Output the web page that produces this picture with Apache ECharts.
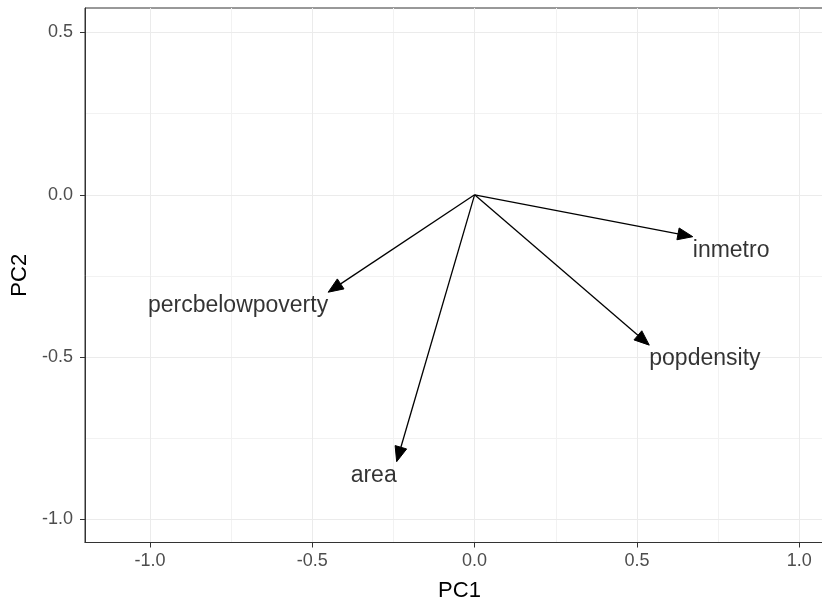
<!DOCTYPE html>
<html>
<head>
    <meta charset="utf-8">
    <title>PCA loadings</title>
    <script src="https://cdn.jsdelivr.net/npm/echarts@6/dist/echarts.min.js"></script>
</head>
<body style="margin:0">
    <div id="main" style="width: 822px;height:599px;"></div>
    <script type="text/javascript">
        var myChart = echarts.init(document.getElementById('main'));

        // loadings (arrow tips)
        var variables = ['inmetro', 'popdensity', 'percbelowpoverty', 'area'];
        var pc1 = [0.672, 0.538, -0.451, -0.240];
        var pc2 = [-0.129, -0.463, -0.300, -0.822];

        var majorTicks = [-1, -0.5, 0, 0.5, 1];
        var minorTicksX = [-0.75, -0.25, 0.25, 0.75];
        var majorTicksY = [-1, -0.5, 0, 0.5];
        var minorTicksY = [-0.75, -0.25, 0.25];

        var xMin = -1.2, xMax = 1.107;
        var yMin = -1.071, yMax = 0.5755;

        var font = '"Liberation Sans", Arial, sans-serif';

        function mainAxis(name, min, max, ticks, isX) {
            return {
                type: 'value',
                min: min,
                max: max,
                name: name,
                nameLocation: 'middle',
                nameGap: isX ? 37 : 47,
                nameTextStyle: { color: '#000', fontSize: 22, fontFamily: font },
                axisLine: { show: true, onZero: false, lineStyle: { color: '#333333', width: 1 } },
                axisTick: { show: true, length: 5, customValues: ticks, lineStyle: { color: '#333333' } },
                axisLabel: {
                    customValues: ticks,
                    margin: isX ? 10 : 12,
                    color: '#4d4d4d',
                    fontSize: 18,
                    fontFamily: font,
                    formatter: function (v) { return v.toFixed(1); }
                },
                splitLine: { show: true, lineStyle: { color: '#ebebeb', width: 1 } },
                z: 2
            };
        }

        function minorAxis(min, max, ticks) {
            return {
                type: 'value',
                min: min,
                max: max,
                axisLine: { show: false },
                axisTick: { show: false, customValues: ticks },
                axisLabel: { show: false, customValues: ticks },
                splitLine: { show: true, lineStyle: { color: '#f2f2f2', width: 1 } },
                z: 1
            };
        }

        var arrowData = variables.map(function (v, i) {
            return [pc1[i], pc2[i]];
        });

        var labelData = variables.map(function (v, i) {
            return {
                name: v,
                value: [pc1[i], pc2[i]],
                label: { align: pc1[i] > 0 ? 'left' : 'right' }
            };
        });

        var option = {
            animation: false,
            backgroundColor: '#fff',
            grid: {
                left: 85,
                top: 8,
                width: 749,
                height: 534.5,
                outerBoundsMode: 'none',
                containLabel: false,
                show: true,
                borderColor: '#333333',
                borderWidth: 1
            },
            xAxis: [mainAxis('PC1', xMin, xMax, majorTicks, true), minorAxis(xMin, xMax, minorTicksX)],
            yAxis: [mainAxis('PC2', yMin, yMax, majorTicksY, false), minorAxis(yMin, yMax, minorTicksY)],
            series: [{
                type: 'custom',
                xAxisIndex: 0,
                yAxisIndex: 0,
                data: arrowData,
                encode: { x: 0, y: 1 },
                z: 5,
                renderItem: function (params, api) {
                    var o = api.coord([0, 0]);
                    var p = api.coord([api.value(0), api.value(1)]);
                    var dx = p[0] - o[0], dy = p[1] - o[1];
                    var len = Math.sqrt(dx * dx + dy * dy);
                    var ux = dx / len, uy = dy / len;
                    var headLen = 15, headHalf = 6;
                    var bx = p[0] - ux * headLen, by = p[1] - uy * headLen;
                    return {
                        type: 'group',
                        children: [{
                            type: 'line',
                            shape: { x1: o[0], y1: o[1], x2: bx, y2: by },
                            style: { stroke: '#000', lineWidth: 1.3 }
                        }, {
                            type: 'polygon',
                            shape: {
                                points: [
                                    [p[0], p[1]],
                                    [bx - uy * headHalf, by + ux * headHalf],
                                    [bx + uy * headHalf, by - ux * headHalf]
                                ]
                            },
                            style: { fill: '#000', stroke: '#000', lineWidth: 1 }
                        }]
                    };
                }
            }, {
                type: 'scatter',
                xAxisIndex: 0,
                yAxisIndex: 0,
                symbolSize: 0,
                z: 6,
                data: labelData,
                label: {
                    show: true,
                    position: [0, 0],
                    formatter: '{b}',
                    verticalAlign: 'top',
                    offset: [0, 2],
                    color: '#000',
                    textBorderWidth: 0,
                    fontSize: 23,
                    fontFamily: font
                }
            }]
        };

        myChart.setOption(option);
    </script>
</body>
</html>
